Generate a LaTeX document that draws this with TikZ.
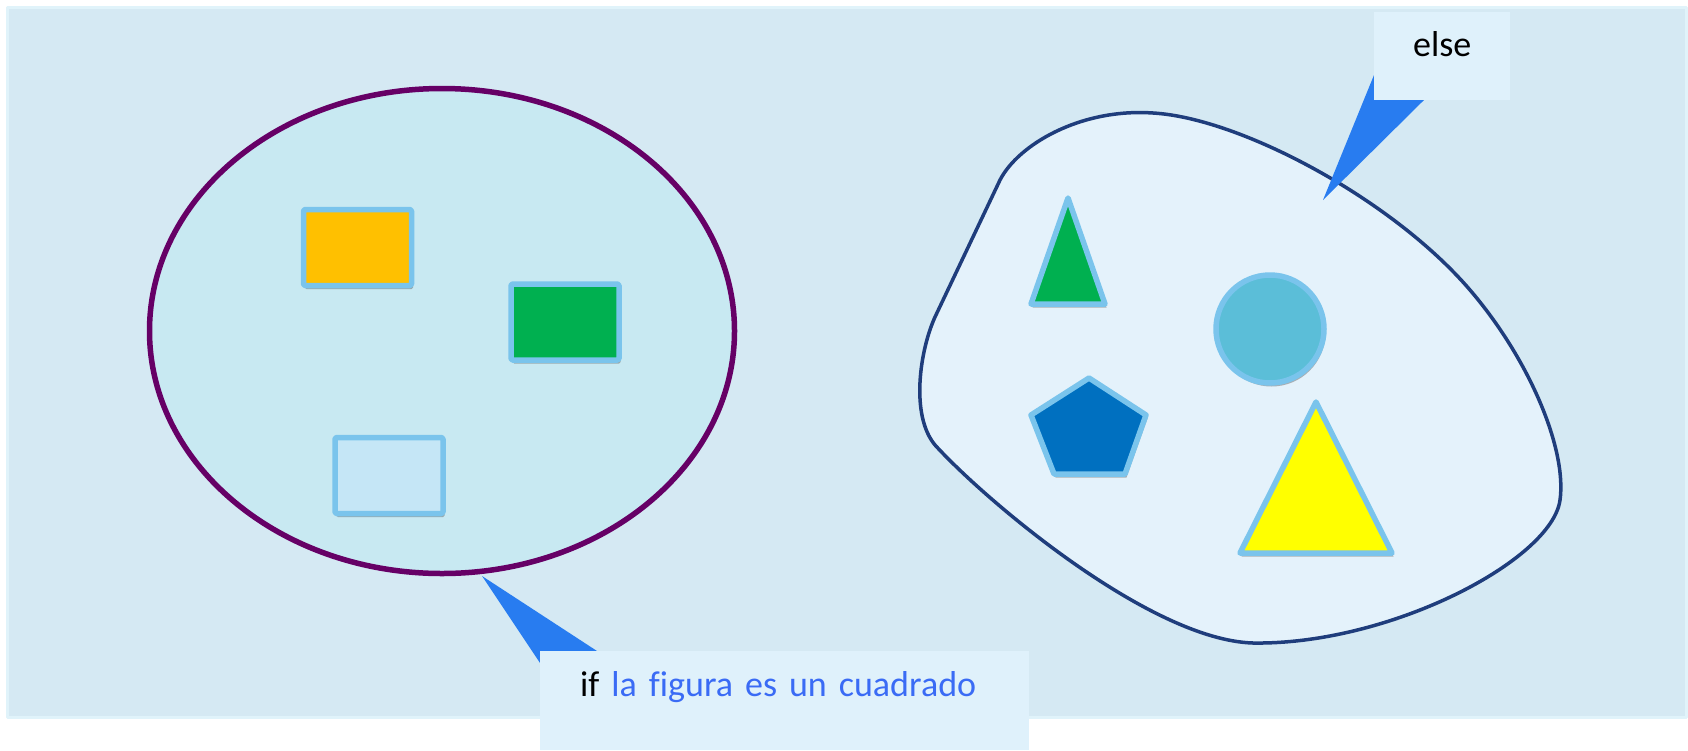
\documentclass[tikz,border=0pt]{standalone}
\usepackage{fontspec}
\setmainfont{Carlito}[Ligatures=NoCommon]
\usetikzlibrary{shapes.geometric,shadows}

\definecolor{bgfill}{HTML}{D5E9F3}
\definecolor{bgedge}{HTML}{E0F3FA}
\definecolor{setfill}{HTML}{C8E9F2}
\definecolor{setedge}{HTML}{660066}
\definecolor{blobfill}{HTML}{E4F2FB}
\definecolor{blobedge}{HTML}{1F3D7C}
\definecolor{figedge}{HTML}{7AC4EC}
\definecolor{callfill}{HTML}{DFF1FB}
\definecolor{pointblue}{HTML}{287CF0}
\definecolor{textblue}{HTML}{3A6BF5}
\definecolor{sqorange}{HTML}{FFC000}
\definecolor{sqgreen}{HTML}{00B050}
\definecolor{sqlight}{HTML}{C5E6F6}
\definecolor{dotblue}{HTML}{5BBED8}
\definecolor{pentblue}{HTML}{0070C0}
\definecolor{triyellow}{HTML}{FFFF00}

\begin{document}
\begin{tikzpicture}[
  x=1pt,
  y=-1pt,
  line join=round,
  figshadow/.style={drop shadow={shadow xshift=1.5pt,shadow yshift=-3.5pt,
    opacity=0.4,fill=black!70}},
  figbox/.style={rectangle,draw=figedge,line width=5.5pt,inner sep=0pt,
    minimum width=108pt,minimum height=76pt,rounded corners=1.5pt,figshadow},
  figpoly/.style={draw=figedge,line width=5.5pt,figshadow},
  callbox/.style={rectangle,fill=callfill,inner sep=0pt,anchor=north west,
    font=\fontsize{36}{43}\selectfont},
  pointer/.style={fill=pointblue}
]
  \useasboundingbox (0,0) rectangle (1688,750);
  % background panel
  \draw[fill=bgfill,draw=bgedge,line width=3pt] (7.5,7.5) rectangle (1686,717);

  % left set: the squares
  \node[ellipse,draw=setedge,fill=setfill,line width=5.5pt,inner sep=0pt,
    minimum width=585pt,minimum height=485pt] (squares) at (442,331) {};
  \node[figbox,fill=sqorange] (sqa) at (357.5,247.5) {};
  \node[figbox,fill=sqgreen] (sqb) at (565,322) {};
  \node[figbox,fill=sqlight] (sqc) at (389,475.5) {};

  % right set: everything else
  \draw[fill=blobfill,draw=blobedge,line width=3.5pt]
    (1000,180) -- (935,317)
    .. controls (920,350) and (910,415) .. (935,445)
    .. controls (985,500) and (1150,640) .. (1253,643)
    .. controls (1390,645) and (1552,560) .. (1560,500)
    .. controls (1567,450) and (1530,360) .. (1470,290)
    .. controls (1392,199) and (1240,118) .. (1153,113)
    .. controls (1080,108) and (1018,145) .. (1000,180) -- cycle;
  \fill[figpoly,fill=sqgreen] (1068,198) -- (1105,304) -- (1031,304) -- cycle;
  \node[circle,draw=figedge,fill=dotblue,line width=5.5pt,inner sep=0pt,
    minimum size=108pt,figshadow] (dot) at (1270,329) {};
  \fill[figpoly,fill=pentblue]
    (1089,378) -- (1146,415) -- (1125,474) -- (1054,474) -- (1031,415) -- cycle;
  \fill[figpoly,fill=triyellow] (1316,402) -- (1392,553) -- (1240,553) -- cycle;

  % callout: if
  \coordinate (iftip) at (482,576);
  \coordinate (ifcorner) at (540,651);
  \fill[pointer] (iftip) -- ([xshift=57pt]ifcorner) -- ([yshift=-12pt]ifcorner)
    -- cycle;
  \node[callbox,text width=409pt,inner xsep=40pt,align=left,
    text height=45pt,text depth=54pt] (ifbox) at (ifcorner)
    {if \textcolor{textblue}{la figura es un cuadrado}};

  % callout: else
  \coordinate (elsetip) at (1323,200);
  \coordinate (elsecorner) at (1374,12);
  \fill[pointer] (elsetip) -- ([yshift=-63pt]elsecorner)
    -- ([xshift=50pt,yshift=-88pt]elsecorner) -- cycle;
  \node[callbox,minimum width=136pt,text height=44pt,text depth=44pt]
    (elsebox) at (elsecorner) {else};
\end{tikzpicture}
\end{document}
